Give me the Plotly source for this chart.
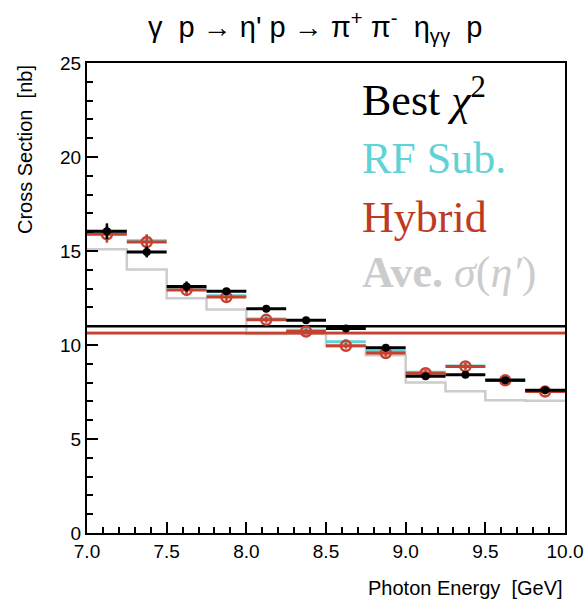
import plotly.graph_objects as go

# ---- data ----
bin_edges = [7.0, 7.25, 7.5, 7.75, 8.0, 8.25, 8.5, 8.75, 9.0, 9.25, 9.5, 9.75, 10.0]
bin_centers = [7.125, 7.375, 7.625, 7.875, 8.125, 8.375, 8.625, 8.875, 9.125, 9.375, 9.625, 9.875]
half_width = [0.125] * 12

best_chi2 = [16.05, 14.95, 13.11, 12.86, 11.93, 11.32, 10.88, 9.85, 8.34, 8.42, 8.12, 7.59]
best_chi2_err = [0.42, 0.29, 0.27, 0.16, 0.12, 0.12, 0.12, 0.15, 0.15, 0.15, 0.12, 0.12]
rf_sub = [15.95, 15.55, 13.00, 12.62, 11.38, 10.79, 10.17, 9.68, 8.55, 8.88, 8.15, 7.58]
rf_sub_err = [0.40, 0.35, 0.22, 0.15, 0.12, 0.12, 0.12, 0.15, 0.15, 0.15, 0.12, 0.12]
hybrid = [15.89, 15.48, 12.93, 12.55, 11.34, 10.72, 9.96, 9.57, 8.50, 8.86, 8.12, 7.52]
hybrid_err = [0.45, 0.40, 0.25, 0.20, 0.15, 0.15, 0.15, 0.18, 0.18, 0.18, 0.15, 0.15]
ave_sigma = [15.09, 14.01, 12.49, 11.89, 10.58, 10.60, 9.93, 9.45, 8.00, 7.54, 7.06, 7.04]

avg_best = 11.0
avg_rf = 10.66
avg_hybrid = 10.62

BLACK = "#000000"
CYAN = "#5fd3d6"
RED = "#c8412f"
RED_TXT = "#bf3a22"
GRAY = "#cccccc"

fig = go.Figure()

# gray step histogram
fig.add_trace(go.Scatter(
    x=bin_edges, y=ave_sigma + [ave_sigma[-1]], mode="lines", line_shape="hv",
    line=dict(color=GRAY, width=2.5), hoverinfo="skip", showlegend=False))

# average lines
for val, col in [(avg_rf, CYAN), (avg_hybrid, RED), (avg_best, BLACK)]:
    fig.add_trace(go.Scatter(x=[bin_edges[0], bin_edges[-1]], y=[val, val], mode="lines",
                             line=dict(color=col, width=2.5), showlegend=False))

def pts(y, err, col, marker):
    return go.Scatter(
        x=bin_centers, y=y, mode="markers", marker=marker,
        error_x=dict(type="data", array=half_width, color=col, thickness=3, width=0),
        error_y=dict(type="data", array=err, color=col, thickness=2.5, width=0),
        showlegend=False)

fig.add_trace(pts(rf_sub, rf_sub_err, CYAN, dict(symbol="circle", size=6, color=CYAN)))
fig.add_trace(pts(hybrid, hybrid_err, RED,
                  dict(symbol="circle-open", size=10, color=RED, line=dict(width=2.5, color=RED))))
fig.add_trace(pts(best_chi2, best_chi2_err, BLACK, dict(symbol="circle", size=8, color=BLACK)))

SANS = "Liberation Sans, Arial, sans-serif"
axis_font = dict(family=SANS, size=19, color="black")

fig.update_xaxes(range=[7.0, 10.0], showline=True, linewidth=2, linecolor="black", mirror=True,
                 ticks="inside", ticklen=11, tickwidth=2, tickcolor="black", dtick=0.5, tick0=7.0,
                 tickformat=".1f", tickfont=axis_font, showgrid=False, zeroline=False,
                 automargin=False,
                 minor=dict(ticks="inside", ticklen=6, tickwidth=2, tickcolor="black", dtick=0.1,
                            showgrid=False))
fig.update_yaxes(range=[0, 25], showline=True, linewidth=2, linecolor="black", mirror=True,
                 ticks="inside", ticklen=11, tickwidth=2, tickcolor="black", dtick=5, tick0=0,
                 tickfont=axis_font, showgrid=False, zeroline=False, automargin=False,
                 minor=dict(ticks="inside", ticklen=6, tickwidth=2, tickcolor="black", dtick=1,
                            showgrid=False))

L, R, T, B = 87, 19, 63, 67
W, H = 584, 600
PW, PH = W - L - R, H - T - B

def px(xpx):
    return (xpx - L) / PW

def py(ypx):
    return (H - B - ypx) / PH

serif = "Liberation Serif, Times New Roman, serif"
annos = [
    dict(text="Best <i>χ</i><sup>2</sup>", color="black", y=97),
    dict(text="RF Sub.", color=CYAN, y=158),
    dict(text="Hybrid", color=RED_TXT, y=217),
    dict(text="<b>Ave.</b> <i>σ</i>(<i>η′</i>)", color=GRAY, y=272),
]
for a in annos:
    fig.add_annotation(text=a["text"], xref="paper", yref="paper", x=px(360), y=py(a["y"]),
                       xanchor="left", yanchor="middle", showarrow=False,
                       font=dict(family=serif, size=44, color=a["color"]))

# title
fig.add_annotation(text="γ  p → η' p → π<sup>+</sup> π<sup>-</sup>  η<sub>γγ</sub>  p",
                   xref="paper", yref="paper", x=px(315), y=py(27), xanchor="center",
                   yanchor="middle", showarrow=False,
                   font=dict(family=SANS, size=29, color="black"))

# axis titles
fig.add_annotation(text="Cross Section  [nb]", xref="paper", yref="paper", x=0, y=1,
                   xshift=24.5 - L, xanchor="center", yanchor="top", textangle=-90,
                   showarrow=False, font=dict(family=SANS, size=20, color="black"))
fig.add_annotation(text="Photon Energy  [GeV]", xref="paper", yref="paper", x=1, y=0,
                   yshift=-55, xanchor="right", yanchor="middle", showarrow=False,
                   font=dict(family=SANS, size=20, color="black"))

fig.update_layout(width=W, height=H, margin=dict(l=L, r=R, t=T, b=B, autoexpand=False),
                  plot_bgcolor="white", paper_bgcolor="white")

fig.write_html("out.html")
